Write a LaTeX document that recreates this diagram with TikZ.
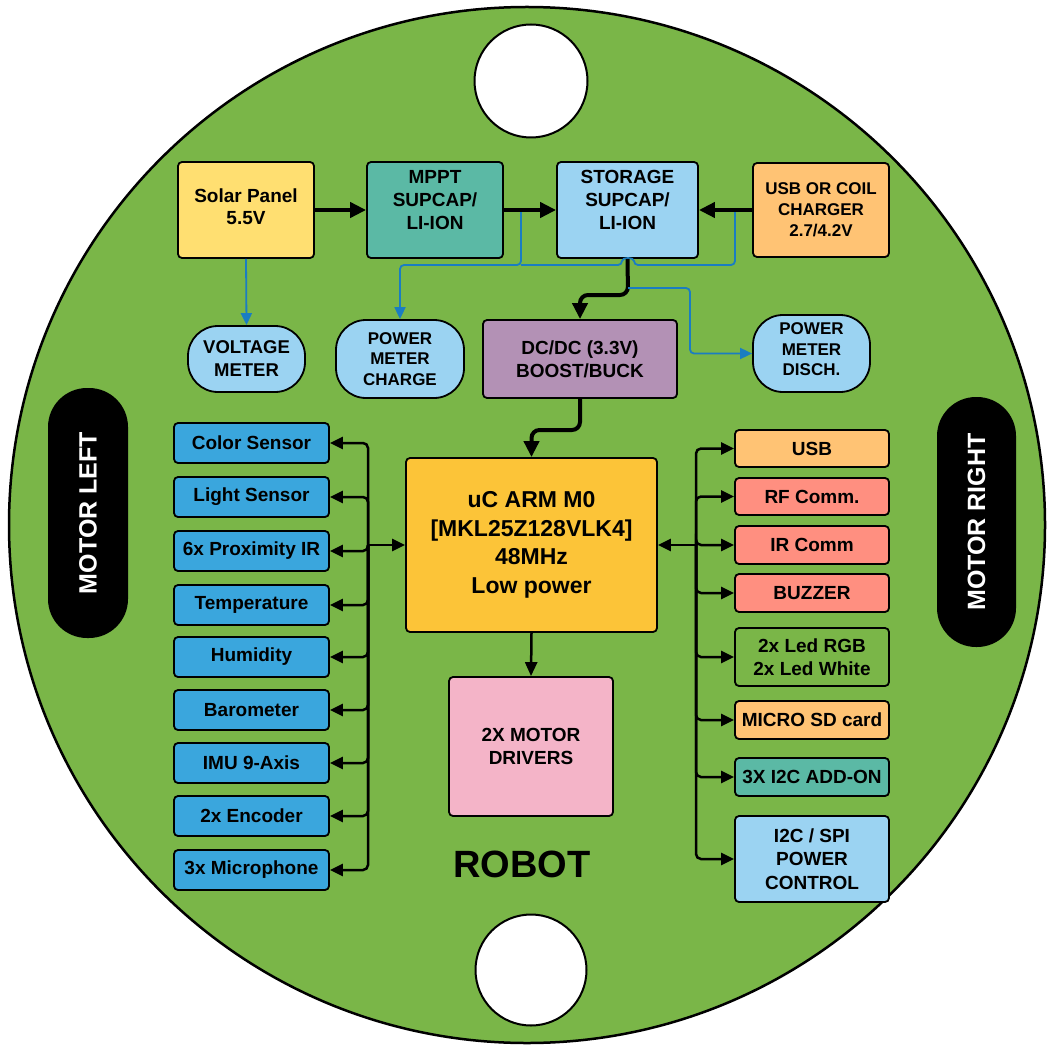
\documentclass[tikz,border=0pt]{standalone}
\usepackage{fontspec}
\setmainfont{Liberation Sans}
\usetikzlibrary{arrows.meta}
\definecolor{bggreen}{HTML}{7AB648}
\definecolor{solaryel}{HTML}{FFDF71}
\definecolor{tealc}{HTML}{5BB9A5}
\definecolor{lblue}{HTML}{9BD3F2}
\definecolor{orangec}{HTML}{FFC374}
\definecolor{purplec}{HTML}{B391B5}
\definecolor{amberc}{HTML}{FCC438}
\definecolor{pinkc}{HTML}{F4B4C8}
\definecolor{sensblue}{HTML}{3AA6DD}
\definecolor{salmonc}{HTML}{FF8F80}
\definecolor{wireblue}{HTML}{1A7DC2}
\tikzset{
  box/.style={draw=black, line width=1.8pt, rounded corners=4pt, align=center, inner sep=0pt,
    font=\fontsize{19}{23}\selectfont\bfseries},
  meter/.style={box, rounded corners=30pt},
  pill/.style={fill=black, rounded corners=39pt, inner sep=0pt, text=white,
    font=\fontsize{25}{30}\selectfont\bfseries, rotate=90},
  thickarrow/.style={line width=4pt, draw=black, -{Triangle[length=16pt,width=15pt]}},
  busarrow/.style={line width=2.5pt, draw=black, rounded corners=5pt, -{Triangle[length=13pt,width=12pt]}},
  bluearrow/.style={line width=1.8pt, draw=wireblue, rounded corners=4pt, -{Triangle[length=12pt,width=11pt]}},
  blueline/.style={line width=1.8pt, draw=wireblue, rounded corners=4pt},
}
\begin{document}
\begin{tikzpicture}[x=1pt,y=-1pt]
\useasboundingbox (0,0) rectangle (1046,1048);
% board
\draw[fill=bggreen, line width=2.5pt] (527,525) circle (518pt);
\node[circle, draw=black, fill=white, line width=2pt, minimum size=113pt, inner sep=0pt] (holetop) at (531,81) {};
\node[circle, draw=black, fill=white, line width=2pt, minimum size=111pt, inner sep=0pt] (holebot) at (531,970) {};
% motors
\node[pill, minimum width=250pt, minimum height=80pt] (ml) at (88,513) {MOTOR LEFT};
\node[pill, minimum width=250pt, minimum height=79pt] (mr) at (976.5,522) {MOTOR RIGHT};
% power chain
\node[box, fill=solaryel, minimum width=136pt, minimum height=96pt, font=\fontsize{19}{22}\selectfont\bfseries] (solar) at (246,210) {Solar Panel\\5.5V\\[-16pt]\mbox{}};
\node[box, fill=tealc, minimum width=136pt, minimum height=96pt] (mppt) at (435,210) {MPPT\\SUPCAP/\\LI-ION\\[-3pt]\mbox{}};
\node[box, fill=lblue, minimum width=141pt, minimum height=96pt] (stor) at (627.5,210) {STORAGE\\SUPCAP/\\LI-ION\\[-3pt]\mbox{}};
\node[box, fill=orangec, minimum width=136pt, minimum height=94pt, font=\fontsize{17}{21}\selectfont\bfseries] (chg) at (821,210) {USB OR COIL\\CHARGER\\2.7/4.2V};
\node[meter, fill=lblue, minimum width=117pt, minimum height=66pt, font=\fontsize{18.5}{23}\selectfont\bfseries] (vm) at (246.5,359) {VOLTAGE\\METER};
\node[meter, fill=lblue, minimum width=128pt, minimum height=78pt, font=\fontsize{17}{20.5}\selectfont\bfseries] (pmc) at (400,359) {POWER\\METER\\CHARGE};
\node[box, fill=purplec, minimum width=194pt, minimum height=78pt] (dcdc) at (580,359) {DC/DC (3.3V)\\BOOST/BUCK};
\node[meter, fill=lblue, minimum width=117pt, minimum height=77pt, font=\fontsize{17}{20.5}\selectfont\bfseries] (pmd) at (811.5,353.5) {POWER\\METER\\DISCH.\\[-12.5pt]\mbox{}};
% controller
\node[box, fill=amberc, minimum width=251pt, minimum height=174pt, font=\fontsize{23}{28.5}\selectfont\bfseries] (uc) at (531.5,545) {uC ARM M0\\{[MKL25Z128VLK4]}\\48MHz\\Low power};
\node[box, fill=pinkc, minimum width=164pt, minimum height=139pt] (md) at (531,746.5) {2X MOTOR\\DRIVERS};
\node[font=\fontsize{38}{40}\selectfont\bfseries] (robot) at (522,864) {ROBOT};
% sensors
\tikzset{sens/.style={box, fill=sensblue, minimum width=155pt, minimum height=40pt}}
\node[sens] (s1) at (251.5,443) {Color Sensor};
\node[sens] (s2) at (251.5,497) {Light Sensor};
\node[sens] (s3) at (251.5,551) {6x Proximity IR};
\node[sens] (s4) at (251.5,605) {Temperature};
\node[sens] (s5) at (251.5,657) {Humidity};
\node[sens] (s6) at (251.5,710) {Barometer};
\node[sens] (s7) at (251.5,763) {IMU 9-Axis};
\node[sens] (s8) at (251.5,816) {2x Encoder};
\node[sens] (s9) at (251.5,870) {3x Microphone};
% peripherals
\tikzset{per/.style={box, minimum width=154pt}}
\node[per, fill=orangec, minimum height=37pt] (r1) at (812,448.5) {USB};
\node[per, fill=salmonc, minimum height=37pt] (r2) at (812,496.5) {RF Comm.};
\node[per, fill=salmonc, minimum height=38pt] (r3) at (812,545) {IR Comm};
\node[per, fill=salmonc, minimum height=38pt] (r4) at (812,593) {BUZZER};
\node[per, fill=bggreen, minimum height=58pt] (r5) at (812,657) {2x Led RGB\\2x Led White};
\node[per, fill=orangec, minimum height=38pt] (r6) at (812,720) {MICRO SD card};
\node[per, fill=tealc, minimum height=38pt] (r7) at (812,777) {3X I2C ADD-ON};
\node[per, fill=lblue, minimum height=86pt, font=\fontsize{19}{23.5}\selectfont\bfseries] (r8) at (812,859) {I2C / SPI\\POWER\\CONTROL};
% power connectors
\coordinate (t1) at (521,210);
\coordinate (t2) at (735,210);
\coordinate (t3) at (628,288);
\draw[bluearrow] (t1) -- (521,265) -- (400,265) -- (pmc.north);
\draw[blueline] (t2) -- (735,265) -- (634,265) .. controls (634,257) and (622,257) .. (622,265) -- (521,265);
\draw[bluearrow] (solar.south) -- (vm.north);
\draw[thickarrow] (solar.east) -- (mppt.west);
\draw[thickarrow] (mppt.east) -- (stor.west);
\draw[thickarrow] (chg.west) -- (stor.east);
\draw[thickarrow, rounded corners=8pt] (stor.south) -- (628,295) -- (580,295) -- (dcdc.north);
\draw[bluearrow] (t3) -- (690,288) -- (690,353.5) -- (pmd.west);
\draw[thickarrow, rounded corners=8pt] (dcdc.south) -- (580,430) -- (531.5,430) -- (uc.north);
\draw[line width=2.5pt, -{Triangle[length=14pt,width=12pt]}] (uc.south) -- (md.north);
% buses
\coordinate (lb) at (368,545);
\coordinate (rb) at (696,545);
\foreach \s in {s1,s2,s3,s4,s5,s6,s7,s8,s9} {\draw[busarrow] (lb) |- (\s.east);}
\draw[busarrow] (lb) -- (uc.west);
\foreach \r in {r1,r2,r3,r4,r5,r6,r7,r8} {\draw[busarrow] (rb) |- (\r.west);}
\draw[busarrow] (rb) -- (uc.east);
\end{tikzpicture}
\end{document}
